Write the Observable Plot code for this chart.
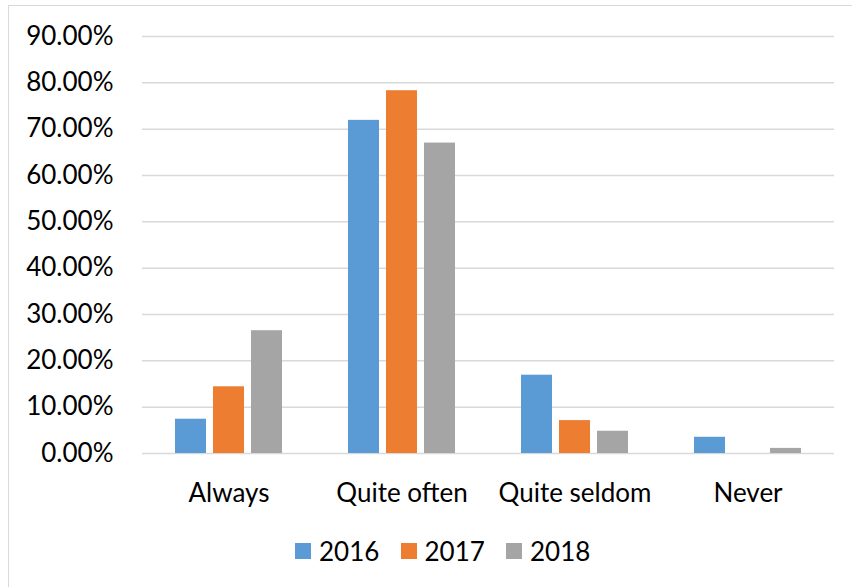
<!DOCTYPE html>
<html>
<head>
<meta charset="utf-8">
<script src="https://cdn.jsdelivr.net/npm/d3@7"></script>
<script src="https://cdn.jsdelivr.net/npm/@observablehq/plot@0.6"></script>
<style>
  html, body { margin: 0; padding: 0; background: #fff; overflow: hidden; }
  #wrap { position: relative; width: 852px; height: 587px; font-family: Lato, sans-serif; }
  #frame { position: absolute; left: 8px; top: 5px; width: 900px; height: 700px;
           border: 1px solid #d9d9d9; box-sizing: border-box; pointer-events: none; }
  #chart { position: absolute; left: 0; top: 0; }
  #legend { position: absolute; left: 295px; top: 537px; display: flex; font-size: 26px; line-height: 28px; color: #000; }
  .item { display: flex; align-items: center; width: 105.5px; }
  .sw { width: 16px; height: 16px; margin-right: 8px; flex: none; }
</style>
</head>
<body>
<div id="wrap">
  <div id="chart"></div>
  <div id="legend"></div>
  <div id="frame"></div>
</div>
<script>
// Response categories and survey years
const categories = ["Always", "Quite often", "Quite seldom", "Never"];
const years = ["2016", "2017", "2018"];

// Share of respondents per category, one list per year
const values2016 = [0.074, 0.719, 0.169, 0.035];
const values2017 = [0.144, 0.783, 0.071, 0.0];
const values2018 = [0.265, 0.670, 0.048, 0.011];

// Y-axis tick values
const yTicks = [0, 0.1, 0.2, 0.3, 0.4, 0.5, 0.6, 0.7, 0.8, 0.9];

const colors = ["#5B9BD5", "#ED7D31", "#A5A5A5"];

const series = [values2016, values2017, values2018];
const data = [];
years.forEach((year, i) => {
  categories.forEach((category, j) => {
    data.push({ category, year, value: series[i][j] });
  });
});

const chart = Plot.plot({
  width: 852,
  height: 520,
  marginLeft: 142,
  marginRight: 18,
  marginTop: 36,
  marginBottom: 67,
  style: { fontFamily: "Lato, sans-serif", fontSize: "26px", color: "#000", background: "transparent" },
  fx: { domain: categories, padding: 0, label: null },
  x: { domain: years, paddingInner: 0.195, paddingOuter: 0.85, axis: null },
  y: { domain: [0, 0.9], label: null },
  color: { domain: years, range: colors },
  marks: [
    Plot.gridY(yTicks, { stroke: "#d9d9d9", strokeOpacity: 1, strokeWidth: 1.5 }),
    Plot.axisY(yTicks, {
      tickSize: 0, tickPadding: 29, label: null,
      tickFormat: d => (d * 100).toFixed(2) + "%", fontSize: 26
    }),
    Plot.axisFx({ anchor: "bottom", tickSize: 0, tickPadding: 30, label: null, fontSize: 26 }),
    Plot.barY(data, { fx: "category", x: "year", y: "value", fill: "year" })
  ]
});
document.getElementById("chart").append(chart);

// Legend swatches
const legend = document.getElementById("legend");
years.forEach((year, i) => {
  const item = document.createElement("div");
  item.className = "item";
  const sw = document.createElement("span");
  sw.className = "sw";
  sw.style.background = colors[i];
  const label = document.createElement("span");
  label.textContent = year;
  item.append(sw, label);
  legend.append(item);
});
</script>
</body>
</html>
